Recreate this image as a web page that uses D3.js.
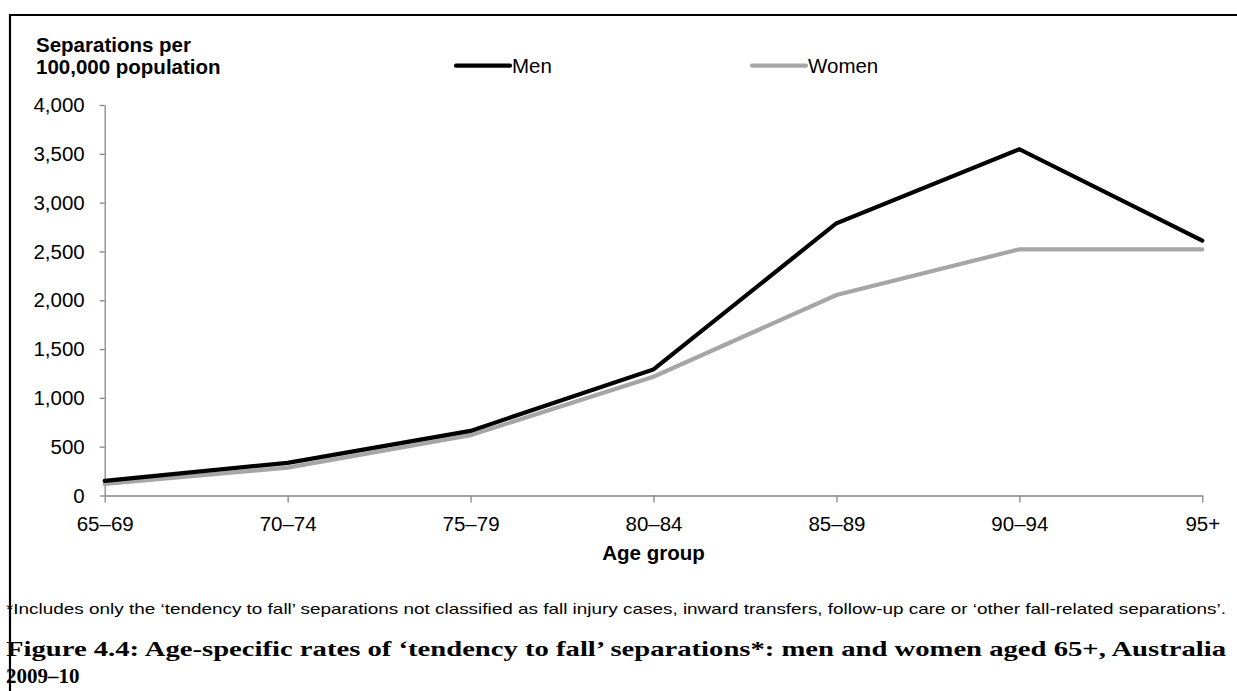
<!DOCTYPE html>
<html><head><meta charset="utf-8">
<script src="https://cdn.jsdelivr.net/npm/d3@7"></script>
<style>
html,body{margin:0;padding:0;background:#fff;}
svg{display:block;}
</style></head>
<body>
<svg id="chart" width="1237" height="691"></svg>
<script>
const categories = ["65–69","70–74","75–79","80–84","85–89","90–94","95+"];
const menValues = [150, 335, 662, 1292, 2789, 3547, 2611];
const womenValues = [118, 286, 617, 1217, 2054, 2522, 2522];
const yTicks = [0,500,1000,1500,2000,2500,3000,3500,4000];
const seriesNames = ["Men","Women"];
const seriesColors = ["#000000","#a6a6a6"];

(function(){
const svg = d3.select("#chart");
const W = 1237, H = 691;
const pLeft = 104.7, pRight = 1202.3, pTop = 105, pBottom = 495.5;
const SANS = "Liberation Sans, Arial, sans-serif";
const FS = 20.5;

// frame
svg.append("path").attr("d", `M10,${H+5} L10,15 L${W+5},15`)
  .attr("fill","none").attr("stroke","#000").attr("stroke-width",2.2);

const x = d3.scalePoint().domain(categories).range([pLeft,pRight]);
const y = d3.scaleLinear().domain([0,4000]).range([pBottom,pTop]);

// Y axis
const yAxis = svg.append("g").attr("transform",`translate(${pLeft},0)`)
  .call(d3.axisLeft(y).tickValues(yTicks).tickFormat(d3.format(",")).tickSize(5).tickPadding(15).tickSizeOuter(0));
yAxis.attr("font-family",SANS).attr("font-size",FS);
yAxis.select(".domain").attr("stroke","#868686").attr("stroke-width",1.3);
yAxis.selectAll(".tick line").attr("stroke","#868686").attr("stroke-width",1.3);
yAxis.selectAll(".tick text").attr("fill","#000");

// X axis
const xAxis = svg.append("g").attr("transform",`translate(0,${pBottom})`)
  .call(d3.axisBottom(x).tickSize(7).tickPadding(14).tickSizeOuter(0));
xAxis.attr("font-family",SANS).attr("font-size",FS);
xAxis.select(".domain").attr("stroke","#868686").attr("stroke-width",1.3);
xAxis.selectAll(".tick line").attr("stroke","#868686").attr("stroke-width",1.3);
xAxis.selectAll(".tick text").attr("fill","#000");

// axis titles
svg.append("text").attr("x",(pLeft+pRight)/2).attr("y",560)
  .attr("text-anchor","middle").attr("font-family",SANS)
  .attr("font-weight","bold").attr("font-size",FS).text("Age group");
const yt = svg.append("text").attr("font-family",SANS)
  .attr("font-weight","bold").attr("font-size",FS);
yt.append("tspan").attr("x",36).attr("y",52.3).text("Separations per");
yt.append("tspan").attr("x",36).attr("y",74.3).text("100,000 population");

// lines
const line = d3.line().x((d,i)=>x(categories[i])).y(d=>y(d));
svg.append("path").datum(womenValues).attr("d",line).attr("fill","none")
  .attr("stroke",seriesColors[1]).attr("stroke-width",4.2).attr("stroke-linecap","round").attr("stroke-linejoin","miter");
svg.append("path").datum(menValues).attr("d",line).attr("fill","none")
  .attr("stroke",seriesColors[0]).attr("stroke-width",4.2).attr("stroke-linecap","round").attr("stroke-linejoin","miter");

// legend
const legendX = [456, 752];
seriesNames.forEach((n,i)=>{
  const g = svg.append("g");
  g.append("line").attr("x1",legendX[i]).attr("x2",legendX[i]+54).attr("y1",65.7).attr("y2",65.7)
    .attr("stroke",seriesColors[i]).attr("stroke-width",4.2).attr("stroke-linecap","round");
  g.append("text").attr("x",legendX[i]+56).attr("y",72.5)
    .attr("font-family",SANS).attr("font-size",FS).text(n);
});

// footnote
svg.append("text").attr("x",6).attr("y",614)
  .attr("font-family","Liberation Sans Narrow, Liberation Sans, Arial, sans-serif").attr("font-size",15)
  .attr("textLength",1220).attr("lengthAdjust","spacingAndGlyphs")
  .text("*Includes only the ‘tendency to fall’ separations not classified as fall injury cases, inward transfers, follow-up care or ‘other fall-related separations’.");

// caption
svg.append("text").attr("x",6).attr("y",656).attr("font-family","Liberation Serif, DejaVu Serif, serif")
  .attr("font-weight","bold").attr("font-size",21).attr("textLength",1220).attr("lengthAdjust","spacingAndGlyphs")
  .text("Figure 4.4: Age-specific rates of ‘tendency to fall’ separations*: men and women aged 65+, Australia");
svg.append("text").attr("x",6).attr("y",683).attr("font-family","Liberation Serif, DejaVu Serif, serif")
  .attr("font-weight","bold").attr("font-size",21)
  .text("2009–10");
})();
</script>
</body></html>
